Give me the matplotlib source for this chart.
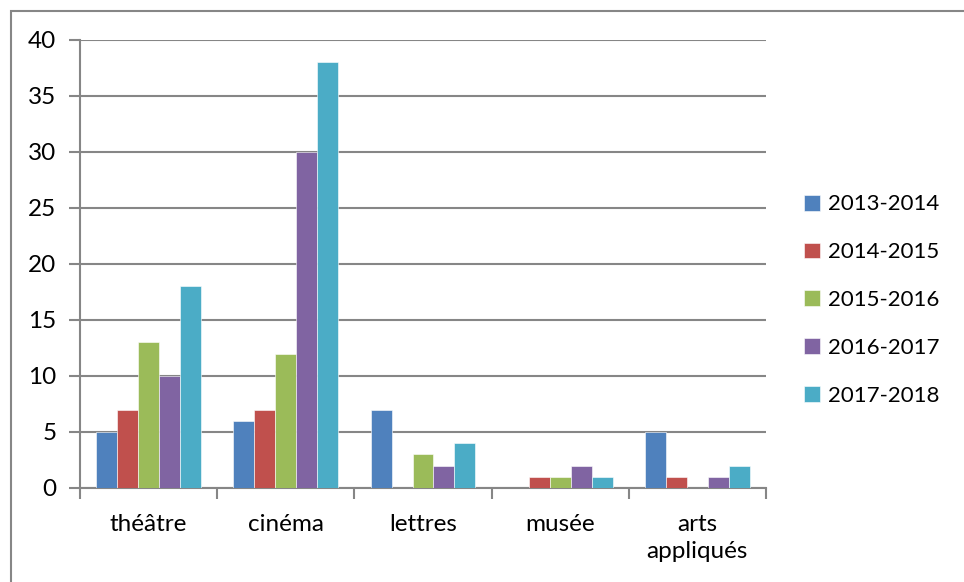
import matplotlib.pyplot as plt
import matplotlib.patches as patches
import numpy as np

plt.rcParams['font.family'] = ['Lato', 'DejaVu Sans']

categories = ['théâtre', 'cinéma', 'lettres', 'musée', 'arts\nappliqués']
seasons = ['2013-2014', '2014-2015', '2015-2016', '2016-2017', '2017-2018']
v_2013 = [5, 6, 7, 0, 5]
v_2014 = [7, 7, 0, 1, 1]
v_2015 = [13, 12, 3, 1, 0]
v_2016 = [10, 30, 2, 2, 1]
v_2017 = [18, 38, 4, 1, 2]
series = [v_2013, v_2014, v_2015, v_2016, v_2017]
colors = ['#4F81BD', '#C0504D', '#9BBB59', '#8064A2', '#4BACC6']

grey = '#868686'
fs = 17.5

fig = plt.figure(figsize=(9.64, 5.82), dpi=100)
ax = fig.add_axes([80 / 964, 1 - 488 / 582, 686 / 964, 448 / 582])

# outer chart border
fig.patches.append(patches.Rectangle((11 / 964, -0.01), 1.0, 1 - 11 / 582 + 0.01,
                                     transform=fig.transFigure, fill=False,
                                     edgecolor=grey, linewidth=1.5))

x = np.arange(len(categories))
bar_w = 0.153
for i, (vals, col, lab) in enumerate(zip(series, colors, seasons)):
    ax.bar(x + (i - 2) * bar_w, vals, width=bar_w, color=col, label=lab,
           edgecolor='white', linewidth=0.4, zorder=3)

ax.set_xlim(-0.5, len(categories) - 0.5)
ax.set_ylim(0, 40)
ax.set_yticks(range(0, 41, 5))
ax.yaxis.grid(True, color=grey, linewidth=1.5, zorder=0)
ax.set_axisbelow(True)

ax.set_xticks(x)
ax.set_xticklabels(categories, fontsize=fs, linespacing=1.35)
ax.set_xticks(np.arange(-0.5, len(categories), 1), minor=True)
ax.tick_params(axis='x', which='major', length=0, pad=19)
ax.tick_params(axis='x', which='minor', length=8, width=1.5, color=grey)
ax.tick_params(axis='y', length=8, width=1.5, color=grey, labelsize=fs, pad=9)

for side in ['top', 'right']:
    ax.spines[side].set_visible(False)
for side in ['left', 'bottom']:
    ax.spines[side].set_color(grey)
    ax.spines[side].set_linewidth(1.5)

ax.legend(loc='center left', bbox_to_anchor=(784 / 964, 1 - 300 / 582),
          bbox_transform=fig.transFigure, frameon=False, fontsize=16,
          handlelength=0.72, handleheight=0.72, handletextpad=0.35,
          labelspacing=1.25)

fig.savefig('out.png', dpi=100)
